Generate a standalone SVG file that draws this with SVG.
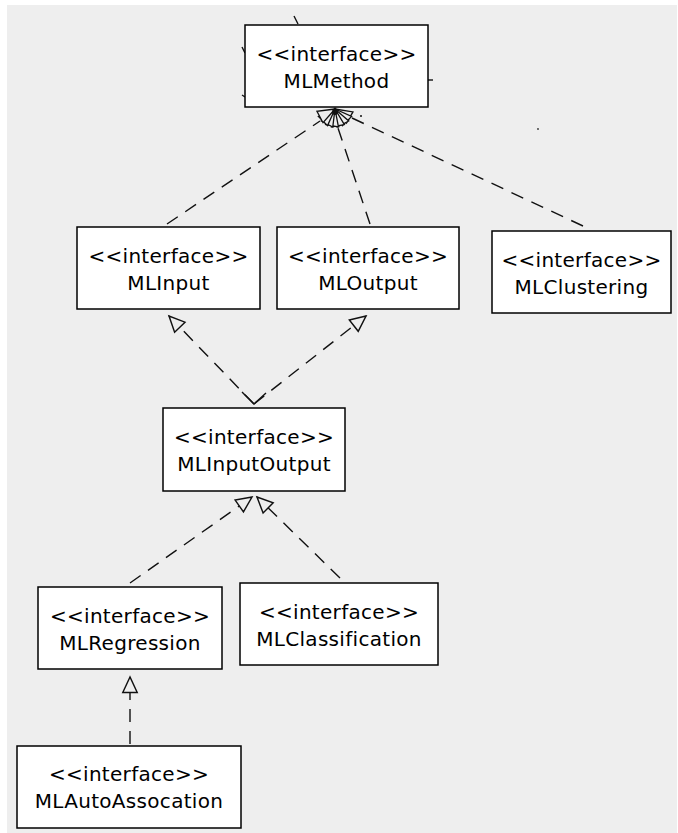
<svg xmlns="http://www.w3.org/2000/svg" width="678" height="833" viewBox="0 0 678 833">
  <defs>
    <style>
      .box { fill: #ffffff; stroke: #000000; stroke-width: 1.5; }
      .lbl { font-family: "DejaVu Sans", Verdana, sans-serif; font-size: 20px; letter-spacing: 0.3px; fill: #000000; text-anchor: middle; }
      .dep { fill: none; stroke: #111111; stroke-width: 1.4; stroke-dasharray: 13 9; }
      .stub { fill: none; stroke: #111111; stroke-width: 1.4; }
      .head { fill: #eeeeee; stroke: #111111; stroke-width: 1.3; stroke-linejoin: miter; }
    </style>
    <!-- hollow realization arrowhead, tip at the path end -->
    <marker id="realize" markerUnits="userSpaceOnUse" markerWidth="20" markerHeight="20"
            viewBox="-16 -8 18 16" refX="0" refY="0" orient="auto">
      <path d="M0,0 L-14,-6.5 L-14,6.5 Z" fill="#eeeeee" stroke="#111111" stroke-width="1.3" stroke-dasharray="none"/>
    </marker>
    <path id="tri" d="M0,0 L-17,-6.5 L-17,6.5 Z"/>
  </defs>

  <!-- canvas -->
  <rect x="0" y="0" width="678" height="833" fill="#ffffff"/>
  <rect x="7" y="5" width="670" height="828" fill="#eeeeee"/>

  <g id="connectors">
    <!-- into MLMethod -->
    <path class="dep" d="M167,224 L320,121"/>
    <path class="dep" d="M370,224 L338,128"/>
    <path class="dep" d="M583,226 L352,118"/>
    <!-- fan of arrowheads meeting under MLMethod -->
    <g transform="translate(335,109)">
      <use href="#tri" class="head" transform="rotate(-150)"/>
      <use href="#tri" class="head" transform="rotate(-135)"/>
      <use href="#tri" class="head" transform="rotate(-118)"/>
      <use href="#tri" class="head" transform="rotate(-100)"/>
      <use href="#tri" class="head" transform="rotate(-80)"/>
      <use href="#tri" class="head" transform="rotate(-62)"/>
      <use href="#tri" class="head" transform="rotate(-45)"/>
      <use href="#tri" class="head" transform="rotate(-28)"/>
      <circle cx="0" cy="3" r="3" fill="#111111"/>
    </g>
    <circle cx="361" cy="116" r="1" fill="#111111"/>
    <circle cx="538" cy="129" r="0.9" fill="#333333"/>
    <!-- stubs of lines leaving the frame -->
    <path class="stub" d="M294,16 L298,24"/>
    <path class="stub" d="M242,47 L245,53"/>
    <path class="stub" d="M428,80 L433,80"/>
    <path class="stub" d="M242,95 L245,97"/>

    <!-- MLInputOutput realizes MLInput and MLOutput -->
    <path class="dep" d="M254,404 L169,316" marker-end="url(#realize)"/>
    <path class="dep" d="M254,404 L366,316" marker-end="url(#realize)"/>
    <path class="stub" d="M242,392 L254,404 L266,393"/>

    <!-- MLRegression and MLClassification realize MLInputOutput -->
    <path class="dep" d="M130,583 L252,497" marker-end="url(#realize)"/>
    <path class="dep" d="M340,578 L257,497" marker-end="url(#realize)"/>

    <!-- MLAutoAssocation realizes MLRegression -->
    <path class="dep" d="M130,744 L130,677" marker-end="url(#realize)"/>
  </g>

  <g id="MLMethod">
    <rect class="box" x="245" y="25" width="183" height="82"/>
    <text class="lbl" x="336.5" y="61">&lt;&lt;interface&gt;&gt;</text>
    <text class="lbl" x="336.5" y="88">MLMethod</text>
  </g>
  <g id="MLInput">
    <rect class="box" x="77" y="227" width="183" height="82"/>
    <text class="lbl" x="168.5" y="263">&lt;&lt;interface&gt;&gt;</text>
    <text class="lbl" x="168.5" y="290">MLInput</text>
  </g>
  <g id="MLOutput">
    <rect class="box" x="277" y="227" width="182" height="82"/>
    <text class="lbl" x="368" y="263">&lt;&lt;interface&gt;&gt;</text>
    <text class="lbl" x="368" y="290">MLOutput</text>
  </g>
  <g id="MLClustering">
    <rect class="box" x="492" y="231" width="179" height="82"/>
    <text class="lbl" x="581.5" y="267">&lt;&lt;interface&gt;&gt;</text>
    <text class="lbl" x="581.5" y="294">MLClustering</text>
  </g>
  <g id="MLInputOutput">
    <rect class="box" x="163" y="408" width="182" height="83"/>
    <text class="lbl" x="254" y="444">&lt;&lt;interface&gt;&gt;</text>
    <text class="lbl" x="254" y="471">MLInputOutput</text>
  </g>
  <g id="MLRegression">
    <rect class="box" x="38" y="587" width="184" height="82"/>
    <text class="lbl" x="130" y="623">&lt;&lt;interface&gt;&gt;</text>
    <text class="lbl" x="130" y="650">MLRegression</text>
  </g>
  <g id="MLClassification">
    <rect class="box" x="240" y="583" width="198" height="82"/>
    <text class="lbl" x="339" y="619">&lt;&lt;interface&gt;&gt;</text>
    <text class="lbl" x="339" y="646">MLClassification</text>
  </g>
  <g id="MLAutoAssocation">
    <rect class="box" x="17" y="746" width="224" height="82"/>
    <text class="lbl" x="129" y="781">&lt;&lt;interface&gt;&gt;</text>
    <text class="lbl" x="129" y="808">MLAutoAssocation</text>
  </g>
</svg>
